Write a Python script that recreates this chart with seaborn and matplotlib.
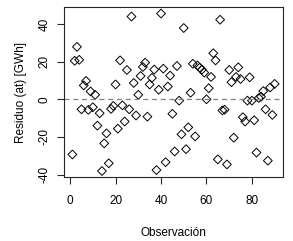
import numpy as np
import pandas as pd
import seaborn as sns
import matplotlib
matplotlib.use("Agg")
import matplotlib.pyplot as plt

# residuos (GWh), observaciones 1..90
residuos = [
    -29.3, 20.5, 27.9, 21.0, -5.3, 7.4, 9.8, -5.6, 4.2, -4.2,
    2.4, -14.0, -7.4, -38.1, -23.4, -18.1, -34.0, -5.1, -3.5, 7.9,
    -15.6, 20.7, -3.2, -11.8, 15.6, -5.3, 44.0, 8.7, -8.6, 2.4,
    12.4, 17.2, 19.5, -9.2, 7.9, 11.4, 15.8, -37.6, 5.1, 45.6,
    16.3, -33.4, 6.8, 12.6, -7.7, -27.7, 17.7, -0.7, -18.6, 37.9,
    -26.5, -14.9, 3.5, 18.9, -19.7, 18.0, 16.8, 15.8, 14.2, 0.0,
    5.9, 11.9, 24.5, 20.7, -31.9, 42.3, -5.9, -5.5, -34.6, 15.6,
    9.1, -20.4, 11.9, 17.0, 10.8, -9.5, -11.8, -0.7, 11.7, -0.7,
    -11.1, -28.3, 0.7, 1.4, 4.4, -5.3, -32.6, 6.3, -8.3, 8.2,
]
observaciones = list(range(1, len(residuos) + 1))
xticks = [0, 20, 40, 60, 80]
yticks = [-40, -20, 0, 20, 40]

df = pd.DataFrame({"obs": observaciones, "res": residuos})

sns.set_style("ticks")
plt.rcParams["font.family"] = ["Liberation Sans", "DejaVu Sans"]

fig = plt.figure(figsize=(2.93, 2.41), dpi=100)
ax = fig.add_axes([0.2195, 0.2643, 0.7455, 0.7057])

sns.scatterplot(data=df, x="obs", y="res", marker="D", s=20,
                facecolors="none", edgecolor="black", linewidth=0.7, ax=ax)
ax.axhline(0, color="gray", linestyle=(0, (4, 3)), linewidth=0.9)

# limites al estilo R (4% de margen)
xr = max(observaciones) - min(observaciones)
yr = max(residuos) - min(residuos)
ax.set_xlim(min(observaciones) - 0.04 * xr, max(observaciones) + 0.04 * xr)
ax.set_ylim(min(residuos) - 0.04 * yr, max(residuos) + 0.04 * yr)

ax.set_xticks(xticks)
ax.set_yticks(yticks)
ax.set_yticklabels([str(v) for v in yticks], rotation=90, va="center")
ax.tick_params(labelsize=8.5, length=5, width=0.8, direction="out",
               labelcolor="black")
ax.tick_params(axis="x", pad=8)
ax.tick_params(axis="y", pad=5)
for s in ax.spines.values():
    s.set_linewidth(0.8)

ax.set_xlabel("Observación", fontsize=8.5, labelpad=14, color="black")
ax.set_ylabel("Residuo (at) [GWh]", fontsize=8.5, labelpad=8, color="black")

fig.savefig("out.png", dpi=100)
